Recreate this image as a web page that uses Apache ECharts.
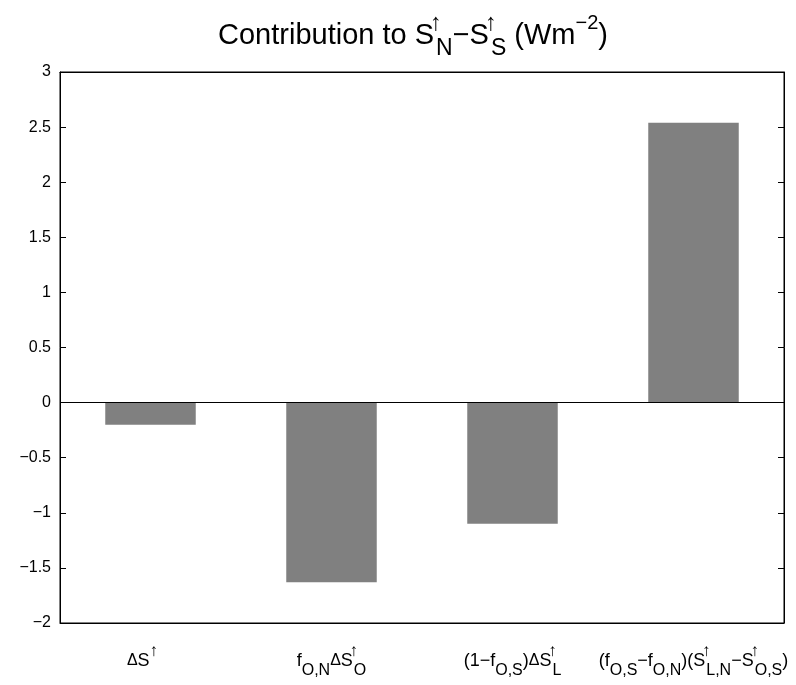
<!DOCTYPE html>
<html>
<head>
<meta charset="utf-8">
<script src="https://cdn.jsdelivr.net/npm/echarts@6/dist/echarts.min.js"></script>
<style>
html,body{margin:0;padding:0;background:#fff;}
#chart{width:796px;height:685px;}
</style>
</head>
<body>
<div id="chart"></div>
<script>
// Categories (rich-text tick labels) and values
const categoryLabels = [
  '{d|Δ}{m|S}{ue|↑}',
  '{m|f}{s|O,N}{d|Δ}{m|S}{u0|↑}{s|O}',
  '{m|(1−f}{s|O,S}{m|)}{d|Δ}{m|S}{u0|↑}{s|L}',
  '{m|(f}{s|O,S}{m|−f}{s|O,N}{m|)(S}{u0|↑}{s|L,N}{m|−S}{u0|↑}{s|O,S}{m|)}'
];
const values = [-0.2, -1.63, -1.10, 2.54];
const yMin = -2, yMax = 3, yStep = 0.5;

const FONT = 'Liberation Sans, Arial, Helvetica, sans-serif';
const chart = echarts.init(document.getElementById('chart'));

const labelRich = {
  m: {fontSize: 18, fontFamily: FONT, color: '#000', lineHeight: 36},
  d: {fontSize: 16, fontFamily: FONT, color: '#000', lineHeight: 36},
  ue: {fontSize: 17, fontFamily: FONT, color: '#000', verticalAlign: 'top', height: 16, padding: [0, 16, 0, 0]},
  u0: {fontSize: 17, fontFamily: FONT, color: '#000', verticalAlign: 'top', height: 16, width: 0, padding: [0, 0, 0, 1]},
  s: {fontSize: 16, fontFamily: FONT, color: '#000', verticalAlign: 'bottom', height: 16}
};

const titleRich = {
  t: {fontSize: 29, fontFamily: FONT, fontWeight: 'normal', color: '#000', lineHeight: 48},
  u0: {fontSize: 24, fontFamily: FONT, fontWeight: 'normal', color: '#000', verticalAlign: 'top', height: 22, width: 0, padding: [0, 0, 0, 2]},
  u: {fontSize: 20, fontFamily: FONT, fontWeight: 'normal', color: '#000', verticalAlign: 'top', height: 22},
  s: {fontSize: 23, fontFamily: FONT, fontWeight: 'normal', color: '#000', verticalAlign: 'bottom', height: 22}
};

const tickStyle = {color: '#000', width: 1};

chart.setOption({
  animation: false,
  backgroundColor: '#fff',
  title: {
    text: '{t|Contribution to S}{u0|↑}{s|N}{t|−S}{u0|↑}{s|S}{t| (Wm}{u|−2}{t|)}',
    left: 408,
    top: 7,
    textAlign: 'center',
    textStyle: {fontWeight: 'normal', rich: titleRich}
  },
  grid: {left: 60, right: 12, top: 72, bottom: 62, show: true, borderColor: '#000', borderWidth: 1, outerBoundsMode: 'none'},
  xAxis: [
    {
      type: 'category',
      data: categoryLabels,
      position: 'bottom',
      axisLine: {onZero: false, lineStyle: {color: '#000', width: 1}},
      axisTick: {inside: true, alignWithLabel: true, length: 6, lineStyle: tickStyle},
      axisLabel: {margin: 20, interval: 0, rich: labelRich, color: '#000'},
      splitLine: {show: false}
    },
    {
      type: 'category',
      data: categoryLabels,
      position: 'top',
      axisLine: {onZero: false, lineStyle: {color: '#000', width: 1}},
      axisTick: {inside: true, alignWithLabel: true, length: 6, lineStyle: tickStyle},
      axisLabel: {show: false},
      splitLine: {show: false}
    }
  ],
  yAxis: [
    {
      type: 'value',
      min: yMin, max: yMax, interval: yStep,
      position: 'left',
      axisLine: {show: true, lineStyle: {color: '#000', width: 1}},
      axisTick: {show: true, inside: true, length: 6, lineStyle: tickStyle},
      axisLabel: {
        fontSize: 16, fontFamily: FONT, color: '#000', margin: 9,
        formatter: v => String(v).replace('-', '−')
      },
      splitLine: {show: false}
    },
    {
      type: 'value',
      min: yMin, max: yMax, interval: yStep,
      position: 'right',
      axisLine: {show: true, lineStyle: {color: '#000', width: 1}},
      axisTick: {show: true, inside: true, length: 6, lineStyle: tickStyle},
      axisLabel: {show: false},
      splitLine: {show: false}
    }
  ],
  series: [{
    type: 'bar',
    data: values,
    xAxisIndex: 0,
    yAxisIndex: 0,
    barWidth: '50%',
    itemStyle: {color: '#808080'},
    markLine: {
      silent: true,
      symbol: ['none', 'none'],
      label: {show: false},
      lineStyle: {color: '#000', width: 1, type: 'solid'},
      data: [{yAxis: 0}]
    }
  }]
});
</script>
</body>
</html>
